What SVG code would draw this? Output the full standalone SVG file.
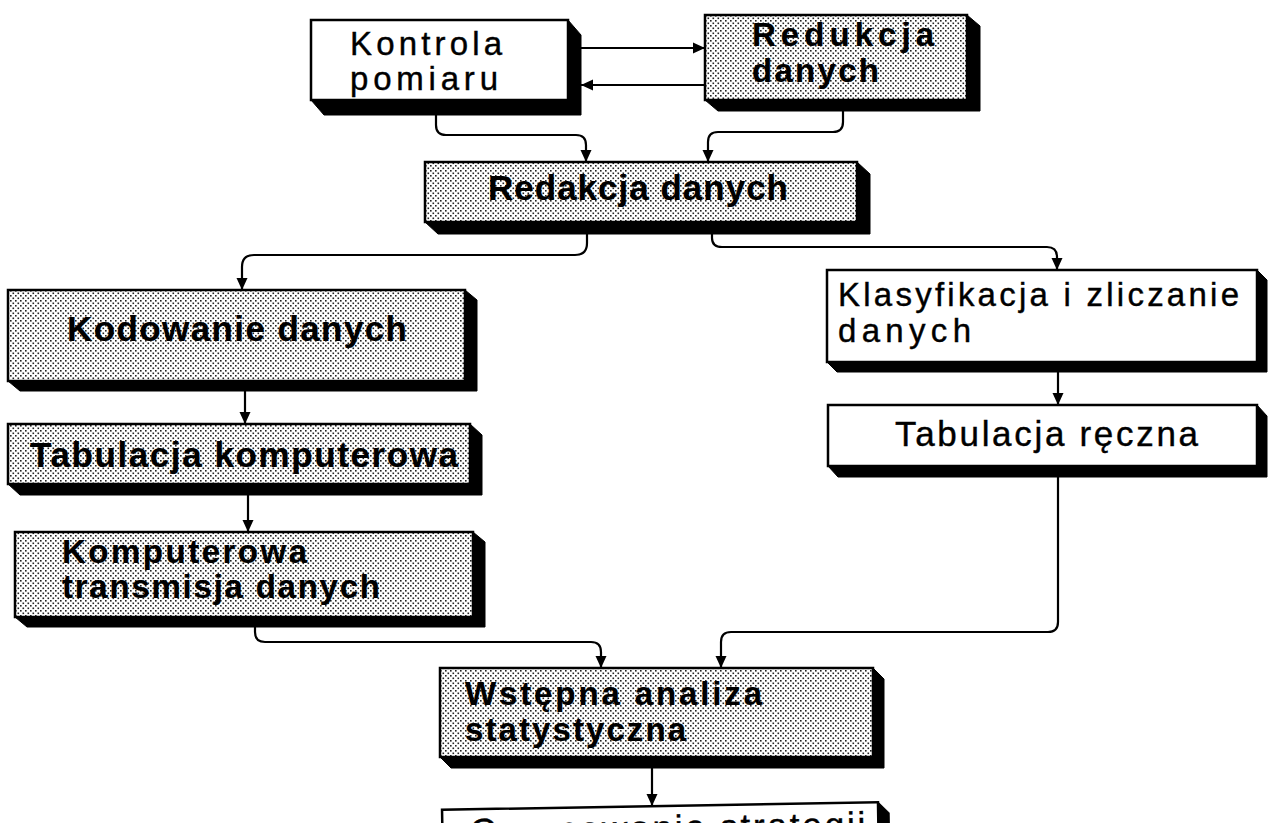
<svg xmlns="http://www.w3.org/2000/svg" width="1270" height="823" viewBox="0 0 1270 823">
  <defs>
    <!-- halftone stipple used on the shaded process boxes -->
    <pattern id="stipple" width="5" height="5" patternUnits="userSpaceOnUse">
      <rect width="5" height="5" fill="#fff"/>
      <rect x="0" y="0" width="1.6" height="1.6" fill="#222"/>
      <rect x="2.5" y="2.5" width="1.6" height="1.6" fill="#222"/>
    </pattern>
    <marker id="arrow" viewBox="0 0 12 12" refX="12" refY="6" markerWidth="12" markerHeight="12" markerUnits="userSpaceOnUse" orient="auto">
      <path d="M0,0.5 L12,6 L0,11.5 Z" fill="#000"/>
    </marker>
  </defs>
  <style>
    .face{stroke:#000;stroke-width:2.5}
    .plain{fill:#fff}
    .shaded{fill:url(#stipple)}
    .depth{fill:#000;stroke:#000;stroke-width:1}
    .lbl{font-family:"Liberation Sans",Arial,Helvetica,sans-serif;font-size:35px;fill:#000;stroke:#000;stroke-width:0.4}
    .b{font-weight:bold;stroke-width:0.2}
    .two{font-size:33px}
    .conn{fill:none;stroke:#000;stroke-width:2.2;marker-end:url(#arrow)}
  </style>
  <rect width="1270" height="823" fill="#fff"/>

  <g id="connectors">
    <path class="conn" d="M581 48 H705"/>
    <path class="conn" d="M705 85 H581"/>
    <path class="conn" d="M436 115 V125 Q436 135 446 135 H576 Q586 135 586 145 V162"/>
    <path class="conn" d="M843 111 V122 Q843 132 833 132 H718 Q708 132 708 142 V162"/>
    <path class="conn" d="M587 234 V243 Q587 255 575 255 H254 Q242 255 242 267 V290"/>
    <path class="conn" d="M712 234 V238 Q712 247 722 247 H1047 Q1057 247 1057 257 V270"/>
    <path class="conn" d="M245 391 V424"/>
    <path class="conn" d="M248 495 V532"/>
    <path class="conn" d="M1058 372 V405"/>
    <path class="conn" d="M255 627 V632 Q255 642 265 642 H591 Q601 642 601 652 V668"/>
    <path class="conn" d="M1058 477 V622 Q1058 632 1048 632 H731 Q721 632 721 642 V668"/>
    <path class="conn" d="M652 768 V806"/>
  </g>

  <g id="kontrola-pomiaru">
    <polygon class="depth" points="568,20 581,35 581,115 324,115 311,100 568,100"/>
    <rect class="face plain" x="311" y="20" width="257" height="80"/>
    <text class="lbl two" x="350" y="55" textLength="152" lengthAdjust="spacing">Kontrola</text>
    <text class="lbl two" x="350" y="90" textLength="148" lengthAdjust="spacing">pomiaru</text>
  </g>

  <g id="redukcja-danych">
    <polygon class="depth" points="967,15 980,26 980,111 718,111 705,100 967,100"/>
    <rect class="face shaded" x="705" y="15" width="262" height="85"/>
    <text class="lbl b two" x="752" y="46" textLength="182" lengthAdjust="spacing">Redukcja</text>
    <text class="lbl b two" x="752" y="82" textLength="127" lengthAdjust="spacing">danych</text>
  </g>

  <g id="redakcja-danych">
    <polygon class="depth" points="857,162 870,174 870,234 438,234 425,222 857,222"/>
    <rect class="face shaded" x="425" y="162" width="432" height="60"/>
    <text class="lbl b" x="488" y="200" textLength="300" lengthAdjust="spacing">Redakcja danych</text>
  </g>

  <g id="kodowanie-danych">
    <polygon class="depth" points="465,290 477,300 477,391 20,391 8,381 465,381"/>
    <rect class="face shaded" x="8" y="290" width="457" height="91"/>
    <text class="lbl b" x="67" y="341" textLength="340" lengthAdjust="spacing">Kodowanie danych</text>
  </g>

  <g id="tabulacja-komputerowa">
    <polygon class="depth" points="470,424 482,435 482,495 20,495 8,484 470,484"/>
    <rect class="face shaded" x="8" y="424" width="462" height="60"/>
    <text class="lbl b" x="30" y="467" textLength="428" lengthAdjust="spacing">Tabulacja komputerowa</text>
  </g>

  <g id="komputerowa-transmisja">
    <polygon class="depth" points="473,532 485,542 485,627 27,627 15,617 473,617"/>
    <rect class="face shaded" x="15" y="532" width="458" height="85"/>
    <text class="lbl b two" x="62" y="563" textLength="245" lengthAdjust="spacing">Komputerowa</text>
    <text class="lbl b two" x="62" y="598" textLength="318" lengthAdjust="spacing">transmisja danych</text>
  </g>

  <g id="klasyfikacja-zliczanie">
    <polygon class="depth" points="1257,270 1267,280 1267,372 837,372 827,362 1257,362"/>
    <rect class="face plain" x="827" y="270" width="430" height="92"/>
    <text class="lbl two" x="838" y="306" textLength="401" lengthAdjust="spacing">Klasyfikacja i zliczanie</text>
    <text class="lbl two" x="838" y="342" textLength="133" lengthAdjust="spacing">danych</text>
  </g>

  <g id="tabulacja-reczna">
    <polygon class="depth" points="1257,405 1267,416 1267,477 838,477 828,466 1257,466"/>
    <rect class="face plain" x="828" y="405" width="429" height="61"/>
    <text class="lbl" x="895" y="446" textLength="303" lengthAdjust="spacing">Tabulacja ręczna</text>
  </g>

  <g id="wstepna-analiza">
    <polygon class="depth" points="873,668 884,679 884,768 451,768 440,757 873,757"/>
    <rect class="face shaded" x="440" y="668" width="433" height="89"/>
    <text class="lbl b two" x="465" y="705" textLength="297" lengthAdjust="spacing">Wstępna analiza</text>
    <text class="lbl b two" x="465" y="741" textLength="221" lengthAdjust="spacing">statystyczna</text>
  </g>

  <g id="opracowanie-strategii" transform="rotate(-1 660 806)">
    <polygon class="depth" points="878,806 889,817 889,900 878,900"/>
    <rect class="face plain" x="442" y="806" width="436" height="90"/>
    <text class="lbl" x="470" y="840" textLength="395" lengthAdjust="spacing">Opracowanie strategii</text>
  </g>
</svg>
